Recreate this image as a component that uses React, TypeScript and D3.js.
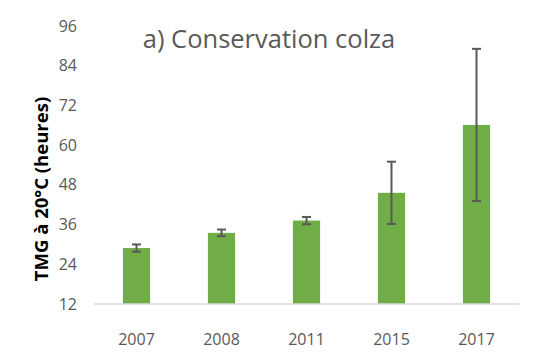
import React from "react";
import * as d3 from "d3";

const categories = ["2007", "2008", "2011", "2015", "2017"];
const values = [28.9, 33.5, 37.2, 45.6, 66.1];
const errors = [1.1, 1.0, 1.1, 9.4, 23.0];
const yTicks = [12, 24, 36, 48, 60, 72, 84, 96];
const title = "a) Conservation colza";
const yLabel = "TMG à 20°C (heures)";

export default function App() {
  const W = 542, H = 358;
  const left = 94, right = 519, top = 26, bottom = 304;
  const x = d3.scaleBand<string>().domain(categories).range([left, right]).paddingInner(0.68).paddingOuter(0.34);
  const y = d3.scaleLinear().domain([12, 96]).range([bottom, top]);
  const font = "'Open Sans', sans-serif";
  return (
    <svg width={W} height={H} style={{ position: "absolute", left: 0, top: 0, background: "#fff" }}>
      <text x={269} y={48} textAnchor="middle" fontFamily={font} fontSize={25.5} fill="#595959">{title}</text>
      {yTicks.map((t) => (
        <text key={t} x={77} y={y(t)} dy="0.35em" textAnchor="end" fontFamily={font} fontSize={16} fill="#595959">{t}</text>
      ))}
      <text transform={`translate(42,189) rotate(-90)`} textAnchor="middle" dy="0.35em" fontFamily={font} fontWeight="bold" fontSize={18.5} fill="#000">{yLabel}</text>
      {categories.map((c, i) => (
        <rect key={c} x={x(c)} y={y(values[i])} width={x.bandwidth()} height={bottom - y(values[i])} fill="#70ad47" />
      ))}
      <line x1={left} x2={right} y1={bottom} y2={bottom} stroke="#d9d9d9" strokeWidth={1.5} />
      {categories.map((c, i) => {
        const cx = (x(c) as number) + x.bandwidth() / 2;
        const y1 = y(values[i] + errors[i]);
        const y2 = y(values[i] - errors[i]);
        return (
          <g key={c} stroke="#595959" strokeWidth={2}>
            <line x1={cx} x2={cx} y1={y1} y2={y2} />
            <line x1={cx - 4.5} x2={cx + 4.5} y1={y1} y2={y1} />
            <line x1={cx - 4.5} x2={cx + 4.5} y1={y2} y2={y2} />
          </g>
        );
      })}
      {categories.map((c) => (
        <text key={c} x={(x(c) as number) + x.bandwidth() / 2} y={339} dy="0.35em" textAnchor="middle" fontFamily={font} fontSize={16} fill="#595959">{c}</text>
      ))}
    </svg>
  );
}
